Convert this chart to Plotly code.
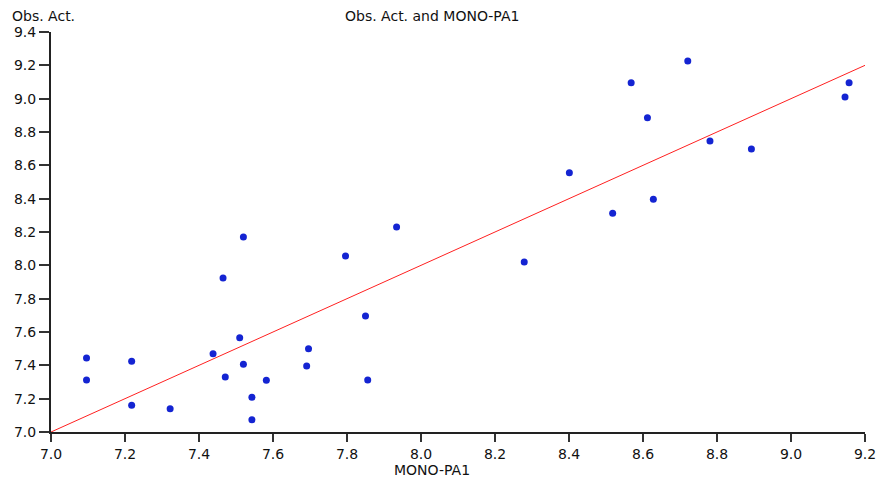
import plotly.graph_objects as go

mono_pa1 = [7.096, 7.096, 7.218, 7.218, 7.322, 7.438, 7.465, 7.471, 7.510, 7.520,
            7.520, 7.543, 7.543, 7.582, 7.691, 7.696, 7.796, 7.850, 7.856, 7.934,
            8.279, 8.401, 8.518, 8.568, 8.612, 8.628, 8.721, 8.781, 8.893, 9.146, 9.157]
obs_act = [7.444, 7.312, 7.424, 7.160, 7.140, 7.470, 7.924, 7.330, 7.566, 8.170,
           7.406, 7.208, 7.074, 7.310, 7.396, 7.500, 8.056, 7.696, 7.312, 8.230,
           8.020, 8.556, 8.312, 9.096, 8.886, 8.396, 9.226, 8.746, 8.698, 9.010, 9.096]
line_x = [7.0, 9.2]
line_y = [7.0, 9.2]

x_ticks = [7.0, 7.2, 7.4, 7.6, 7.8, 8.0, 8.2, 8.4, 8.6, 8.8, 9.0, 9.2]
y_ticks = [7.0, 7.2, 7.4, 7.6, 7.8, 8.0, 8.2, 8.4, 8.6, 8.8, 9.0, 9.2, 9.4]

font_family = "DejaVu Sans, Verdana, sans-serif"

L, T, PW, PH = 51, 32, 814, 400
W, H = 877, 479

fig = go.Figure()
fig.add_trace(go.Scatter(x=line_x, y=line_y, mode="lines",
                         line=dict(color="#ff2020", width=1), hoverinfo="skip"))
fig.add_trace(go.Scatter(x=mono_pa1, y=obs_act, mode="markers",
                         marker=dict(color="#1424d2", size=7, line=dict(width=0))))

fig.update_layout(
    width=W, height=H,
    margin=dict(l=L, r=W - L - PW, t=T, b=H - T - PH, pad=0, autoexpand=False),
    paper_bgcolor="white", plot_bgcolor="white",
    showlegend=False,
    font=dict(family=font_family, size=14, color="#111111"),
    xaxis=dict(range=[7.0, 9.2], tickvals=x_ticks, ticktext=[f"{v:.1f}" for v in x_ticks],
               showgrid=False, zeroline=False, showline=True, linecolor="#222222", linewidth=2,
               ticks="outside", ticklen=8, tickwidth=1.5, tickcolor="#333333",
               tickfont=dict(size=14), fixedrange=True, automargin=False),
    yaxis=dict(range=[7.0, 9.4], tickvals=y_ticks, ticktext=[f"{v:.1f}" for v in y_ticks],
               showgrid=False, zeroline=False, showline=True, linecolor="#222222", linewidth=2,
               ticks="outside", ticklen=10, tickwidth=1.5, tickcolor="#333333",
               tickfont=dict(size=14), fixedrange=True, automargin=False),
    annotations=[
        dict(text="Obs. Act. and MONO-PA1", xref="paper", yref="paper",
             x=(432 - L) / PW, y=1 + (T - 16) / PH, xanchor="center", yanchor="middle",
             showarrow=False, font=dict(size=14)),
        dict(text="Obs. Act.", xref="paper", yref="paper",
             x=(10 - L) / PW, y=1 + (T - 16) / PH, xanchor="left", yanchor="middle",
             showarrow=False, font=dict(size=14)),
        dict(text="MONO-PA1", xref="paper", yref="paper",
             x=(432 - L) / PW, y=-(470 - (T + PH)) / PH, xanchor="center", yanchor="middle",
             showarrow=False, font=dict(size=14)),
    ],
)

fig.write_html(
    "out.html",
    config={"displayModeBar": False},
    post_script="document.body.style.margin='0';document.body.style.overflow='hidden';",
)
